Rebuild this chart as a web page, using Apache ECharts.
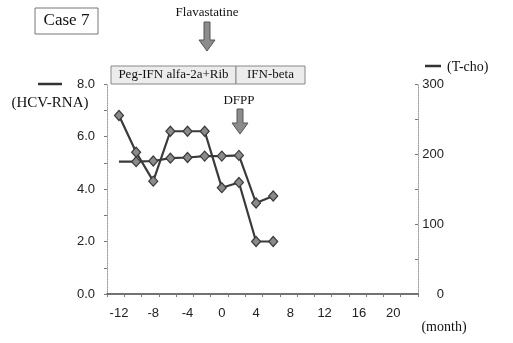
<!DOCTYPE html>
<html>
<head>
<meta charset="utf-8">
<script src="https://cdn.jsdelivr.net/npm/echarts@6/dist/echarts.min.js"></script>
<style>html,body{margin:0;padding:0;background:#fff}#c{width:513px;height:343px}</style>
</head>
<body>
<div id="c"></div>
<script>
const months = [-12, -10, -8, -6, -4, -2, 0, 2, 4, 6];
const hcvRna = [6.8, 5.4, 4.3, 6.2, 6.2, 6.2, 4.05, 4.25, 2.0, 2.0];
const tCho = [189, 189, 190, 194, 195, 197, 197, 198, 130, 140];
const xTickLabels = [-12, -8, -4, 0, 4, 8, 12, 16, 20];
const leftTicks = [0, 2, 4, 6, 8];
const rightTicks = [0, 100, 200, 300];

const X_MIN = -13.4, X_MAX = 22.9;
const xMinorTicks = [];
for (let k = 0; k <= 18; k++) xMinorTicks.push(+(X_MIN + k * (X_MAX - X_MIN) / 18).toFixed(3));

const serif = '"Liberation Serif", "DejaVu Serif", serif';
const sans = '"Liberation Sans", Arial, sans-serif';

const chart = echarts.init(document.getElementById('c'), null, {renderer: 'canvas'});

function arrow(cx, y0, y1) {
  const sh = 3, hw = 8, hh = 11;
  return {
    type: 'polygon',
    shape: {points: [[cx - sh, y0], [cx + sh, y0], [cx + sh, y1 - hh], [cx + hw, y1 - hh], [cx, y1], [cx - hw, y1 - hh], [cx - sh, y1 - hh]]},
    style: {fill: '#8c8c8c', stroke: '#555', lineWidth: 1}
  };
}

const lineStyle = {color: '#3a3a3a', width: 2.2};
const itemStyle = {color: '#8a8a8a', borderColor: '#3a3a3a', borderWidth: 1.2};

chart.setOption({
  animation: false,
  grid: {left: 107, right: 95, top: 84, bottom: 49},
  xAxis: {
    type: 'value', min: X_MIN, max: X_MAX,
    splitLine: {show: false},
    axisLine: {onZero: false, lineStyle: {color: '#444', width: 1.5}},
    axisTick: {show: true, customValues: xMinorTicks, length: 3, lineStyle: {color: '#777'}},
    axisLabel: {customValues: xTickLabels, margin: 13, color: '#222', fontFamily: sans, fontSize: 13}
  },
  yAxis: [
    {
      type: 'value', min: 0, max: 8, interval: 1, position: 'left',
      splitLine: {show: false},
      axisLine: {show: true, onZero: false, lineStyle: {color: '#999', width: 1, type: 'dotted'}},
      axisTick: {show: true, length: 3, lineStyle: {color: '#777'}},
      axisLabel: {
        margin: 12, color: '#222', fontFamily: sans, fontSize: 13,
        formatter: v => leftTicks.indexOf(v) >= 0 ? v.toFixed(1) : ''
      }
    },
    {
      type: 'value', min: 0, max: 300, interval: 50, position: 'right',
      splitLine: {show: false},
      axisLine: {show: true, onZero: false, lineStyle: {color: '#999', width: 1, type: 'dotted'}},
      axisTick: {show: true, inside: true, length: 3, lineStyle: {color: '#777'}},
      axisLabel: {
        margin: 26, align: 'right', color: '#222', fontFamily: sans, fontSize: 13,
        formatter: v => rightTicks.indexOf(v) >= 0 ? String(v) : ''
      }
    }
  ],
  series: [
    {
      name: 'HCV-RNA', type: 'line', yAxisIndex: 0,
      data: months.map((m, i) => [m, hcvRna[i]]),
      symbol: 'diamond', symbolSize: [9, 10],
      lineStyle: lineStyle, itemStyle: itemStyle, z: 3
    },
    {
      name: 'T-cho', type: 'line', yAxisIndex: 1,
      data: months.map((m, i) => i === 0 ? {value: [m, tCho[i]], symbol: 'none'} : [m, tCho[i]]),
      symbol: 'diamond', symbolSize: [9, 10],
      lineStyle: lineStyle, itemStyle: itemStyle, z: 2
    }
  ],
  graphic: [
    {type: 'rect', shape: {x: 35, y: 8, width: 63, height: 26}, style: {fill: '#fff', stroke: '#777', lineWidth: 1}},
    {type: 'text', x: 66.5, y: 21, style: {text: 'Case 7', font: '17px ' + serif, fill: '#111', align: 'center', verticalAlign: 'middle'}},
    {type: 'text', x: 207, y: 13, style: {text: 'Flavastatine', font: '13px ' + serif, fill: '#111', align: 'center', verticalAlign: 'middle'}},
    arrow(207, 22, 51),
    {type: 'rect', shape: {x: 111, y: 66, width: 125, height: 18}, style: {fill: '#ececec', stroke: '#888', lineWidth: 1}},
    {type: 'text', x: 173.5, y: 75, style: {text: 'Peg-IFN alfa-2a+Rib', font: '13px ' + serif, fill: '#111', align: 'center', verticalAlign: 'middle'}},
    {type: 'rect', shape: {x: 236, y: 66, width: 69, height: 18}, style: {fill: '#ececec', stroke: '#888', lineWidth: 1}},
    {type: 'text', x: 270.5, y: 75, style: {text: 'IFN-beta', font: '13px ' + serif, fill: '#111', align: 'center', verticalAlign: 'middle'}},
    {type: 'text', x: 239, y: 101, style: {text: 'DFPP', font: '13px ' + serif, fill: '#111', align: 'center', verticalAlign: 'middle'}},
    arrow(240, 109, 134),
    {type: 'line', shape: {x1: 38, y1: 84, x2: 62, y2: 84}, style: {stroke: '#333', lineWidth: 2.5}},
    {type: 'text', x: 50, y: 103, style: {text: '(HCV-RNA)', font: '15px ' + serif, fill: '#111', align: 'center', verticalAlign: 'middle'}},
    {type: 'line', shape: {x1: 425, y1: 66, x2: 441, y2: 66}, style: {stroke: '#333', lineWidth: 2.5}},
    {type: 'text', x: 447, y: 67, style: {text: '(T-cho)', font: '14px ' + serif, fill: '#111', align: 'left', verticalAlign: 'middle'}},
    {type: 'text', x: 444, y: 327, style: {text: '(month)', font: '14px ' + serif, fill: '#111', align: 'center', verticalAlign: 'middle'}}
  ]
});
</script>
</body>
</html>
